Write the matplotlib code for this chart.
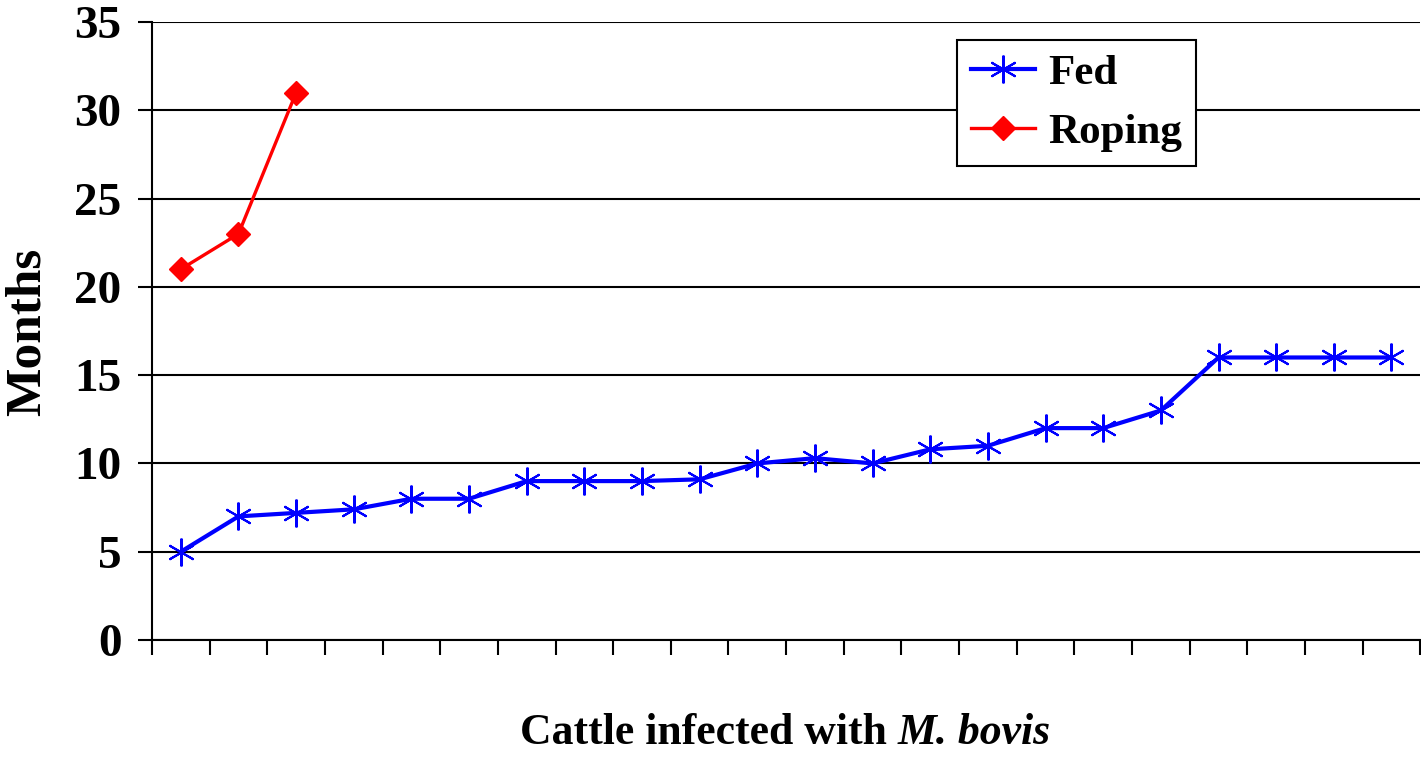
import matplotlib
matplotlib.use("Agg")
import matplotlib.pyplot as plt
import numpy as np

fed = [5, 7, 7.2, 7.4, 8, 8, 9, 9, 9, 9.1, 10, 10.3, 10, 10.8, 11, 12, 12, 13, 16, 16, 16, 16]
roping = [21, 23, 31]
yticks = [0, 5, 10, 15, 20, 25, 30, 35]

plt.rcParams['font.family'] = ['Liberation Serif', 'DejaVu Serif']
plt.rcParams['font.weight'] = 'bold'

fig = plt.figure(figsize=(14.21, 7.57), dpi=100)
ax = fig.add_axes([152/1421, 117/757, 1 - 152/1421 - 0.0005, (640-22)/757])

x_fed = np.arange(len(fed))
x_rop = np.arange(len(roping))
ax.plot(x_fed, fed, color='#0000FF', lw=3.0, marker=(6, 2, 0), ms=20, mew=1.5,
        mec='#0000FF', label='Fed', zorder=3)
ax.plot(x_rop, roping, color='#FF0000', lw=2.4, marker='D', ms=12, mec='#FF0000',
        mfc='#FF0000', label='Roping', zorder=3)

ax.set_xlim(-0.5, len(fed) - 0.5)
ax.set_ylim(0, 35)
ax.set_yticks(yticks)
ax.set_xticks(np.arange(-0.5, len(fed) + 0.5, 1))
ax.set_xticklabels([])
ax.yaxis.grid(True, color='black', lw=1.5)
ax.set_axisbelow(True)
for s in ['top', 'right']:
    ax.spines[s].set_visible(False)
for s in ['left', 'bottom']:
    ax.spines[s].set_linewidth(1.5)
ax.tick_params(axis='y', length=10, width=1.5, labelsize=34, pad=12)
ax.tick_params(axis='x', length=11, width=1.5)
for lab in ax.get_yticklabels():
    lab.set_fontweight('bold')

fig.text(28/1421, 1 - 332/757, 'Months', fontsize=37, fontweight='bold',
         rotation=90, ha='center', va='center')

# x label: regular bold part + italic bold part, centred together
renderer = fig.canvas.get_renderer()
t1 = fig.text(0, 1 - 733/757, 'Cattle infected with ', fontsize=31.5,
              fontweight='bold', ha='left', va='center')
t2 = fig.text(0, 1 - 733/757, 'M. bovis', fontsize=31.5, fontweight='bold',
              fontstyle='italic', ha='left', va='center')
w1 = t1.get_window_extent(renderer).width
w2 = t2.get_window_extent(renderer).width
start = 785 - (w1 + w2) / 2
t1.set_x(start / 1421)
t2.set_x((start + w1) / 1421)

leg = ax.legend(loc='upper left', bbox_to_anchor=((957-152)/1269, (640-40)/618),
                borderaxespad=0, fontsize=31, frameon=True, fancybox=False,
                edgecolor='black', handlelength=1.5, borderpad=0.33,
                labelspacing=0.45, handletextpad=0.3)
leg.get_frame().set_linewidth(1.5)
leg.get_frame().set_alpha(1)
for t in leg.get_texts():
    t.set_fontweight('bold')

fig.savefig('out.png', dpi=100)
